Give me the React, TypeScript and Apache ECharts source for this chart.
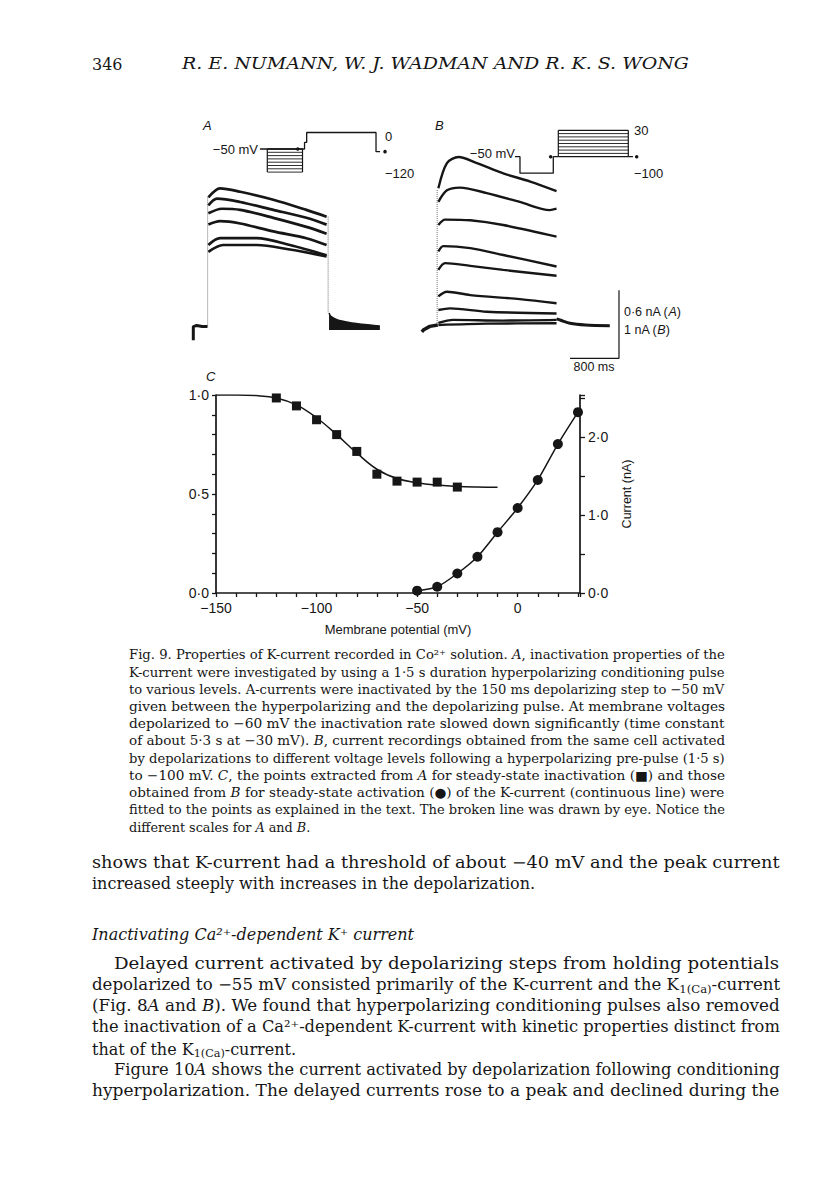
import React, { useEffect, useRef } from "react";
import * as echarts from "echarts";

// ---------- Panel A: current traces (time ms, current nA) ----------
const traceA1 = [[300, 1.17], [490, 1.25], [820, 1.22], [1360, 1.15], [1900, 1.06], [2230, 1.0]];
const traceA2 = [[300, 1.1], [440, 1.16], [820, 1.13], [1360, 1.06], [1900, 0.99], [2230, 0.93]];
const traceA3 = [[300, 1.03], [520, 1.07], [820, 1.06], [1360, 0.99], [1900, 0.91], [2230, 0.85]];
const traceA4 = [[300, 0.93], [490, 0.96], [820, 0.94], [1360, 0.87], [1900, 0.81], [2230, 0.75]];
const traceA5 = [[300, 0.75], [490, 0.81], [1090, 0.81], [1630, 0.75], [2230, 0.66]];
const traceA6 = [[300, 0.69], [540, 0.75], [1090, 0.75], [1630, 0.71], [2230, 0.65]];
const baselineA = [[54, -0.09], [54, 0.03], [110, 0.04], [200, 0.03], [285, 0.03]];
const riseA = [[288, 0.03], [288, 1.17]];
const fallA = [[2255, 1.0], [2255, 0.15]];
const tailA = [[2270, 0.15], [2300, 0.12], [2400, 0.09], [2600, 0.065], [2800, 0.05], [3000, 0.04], [3100, 0.035]];

// Panel A voltage protocol (time ms, schematic mV)
const protoALine = [[1143, -50], [1837, -50], [1870, -50], [1870, -30], [1905, -30], [1905, 0], [3037, 0], [3037, -58], [3103, -58]];
const protoALevels = [-50, -60, -70, -80, -90, -100, -110, -120];
const protoAStepStart = 1262;
const protoAStepEnd = 1837;
const protoADots = [[1759, -50], [3184, -58]];

// ---------- Panel B ----------
const traceB1 = [[300, 2.01], [440, 2.38], [630, 2.47], [930, 2.38], [1360, 2.23], [1800, 2.11], [2230, 1.97]];
const traceB2 = [[300, 1.81], [440, 1.98], [650, 2.02], [1090, 1.94], [1630, 1.81], [2120, 1.69], [2230, 1.71]];
const traceB3 = [[300, 1.47], [410, 1.55], [820, 1.54], [1360, 1.47], [2230, 1.3]];
const traceB4 = [[300, 1.08], [380, 1.16], [820, 1.13], [1360, 1.03], [2230, 0.86]];
const traceB5 = [[300, 0.81], [410, 0.91], [820, 0.87], [1360, 0.81], [2230, 0.725]];
const traceB6 = [[300, 0.42], [440, 0.49], [820, 0.44], [1630, 0.38], [2230, 0.32]];
const traceB7 = [[300, 0.22], [490, 0.245], [1090, 0.195], [2230, 0.17]];
const traceB8 = [[300, 0.03], [540, 0.075], [1360, 0.065], [2230, 0.075]];
const traceB9 = [[300, 0.0], [1090, 0.02], [2230, 0.025]];
const baselineB = [[30, -0.1], [60, -0.07], [160, -0.02], [290, 0.0]];
const riseB = [[280, 0.0], [280, 2.0]];
const tailB = [[2230, 0.09], [2300, 0.07], [2450, 0.025], [2700, 0.0], [3100, -0.01]];
const scaleBarB = [[2450, -0.49], [3250, -0.49], [3250, 0.51]];

// Panel B voltage protocol
const protoBLine = [[1551, -50], [1633, -50], [1633, -100], [2177, -100], [2177, -50], [2259, -50]];
const protoBLevels = [-50, -40, -30, -20, -10, 0, 10, 20, 30];
const protoBStepStart = 2259;
const protoBStepEnd = 3402;
const protoBOut = [[3402, -50], [3478, -50]];
const protoBDots = [[2134, -50], [3539, -50]];

// ---------- Panel C ----------
const inactV = [-120, -110, -100, -90, -80, -70, -60, -50, -40, -30];
const inactVal = [0.985, 0.945, 0.875, 0.8, 0.715, 0.6, 0.565, 0.56, 0.56, 0.535];
const fitV = [-150, -140, -130, -120, -110, -100, -90, -80, -70, -60, -50, -40, -30, -20, -10];
const fitVal = [1.0, 1.0, 0.997, 0.985, 0.95, 0.885, 0.8, 0.707, 0.625, 0.578, 0.557, 0.545, 0.538, 0.535, 0.534];
const actV = [-50, -40, -30, -20, -10, 0, 10, 20, 30];
const actVal = [0.03, 0.08, 0.25, 0.465, 0.78, 1.09, 1.45, 1.91, 2.32];

// ---------- Page text ----------
const headerNumber = "346";
const headerTitle = "R. E. NUMANN, W. J. WADMAN AND R. K. S. WONG";
const captionLines = [
  "Fig. 9. Properties of K-current recorded in Co²⁺ solution. {i|A}, inactivation properties of the",
  "K-current were investigated by using a 1·5 s duration hyperpolarizing conditioning pulse",
  "to various levels. A-currents were inactivated by the 150 ms depolarizing step to −50 mV",
  "given between the hyperpolarizing and the depolarizing pulse. At membrane voltages",
  "depolarized to −60 mV the inactivation rate slowed down significantly (time constant",
  "of about 5·3 s at −30 mV). {i|B}, current recordings obtained from the same cell activated",
  "by depolarizations to different voltage levels following a hyperpolarizing pre-pulse (1·5 s)",
  "to −100 mV. {i|C}, the points extracted from {i|A} for steady-state inactivation (■) and those",
  "obtained from {i|B} for steady-state activation (●) of the K-current (continuous line) were",
  "fitted to the points as explained in the text. The broken line was drawn by eye. Notice the",
  "different scales for {i|A} and {i|B}.",
];
const bodyLines = [
  { t: "shows that K-current had a threshold of about −40 mV and the peak current", y: 862, indent: 0, just: true },
  { t: "increased steeply with increases in the depolarization.", y: 883, indent: 0, just: false },
  { t: "{i|Inactivating Ca²⁺-dependent K⁺ current}", y: 934, indent: 0, just: false },
  { t: "Delayed current activated by depolarizing steps from holding potentials", y: 963, indent: 22, just: true },
  { t: "depolarized to −55 mV consisted primarily of the K-current and the K{sub|1(Ca)}-current", y: 985, indent: 0, just: true },
  { t: "(Fig. 8{i|A} and {i|B}). We found that hyperpolarizing conditioning pulses also removed", y: 1006, indent: 0, just: true },
  { t: "the inactivation of a Ca²⁺-dependent K-current with kinetic properties distinct from", y: 1027, indent: 0, just: true },
  { t: "that of the K{sub|1(Ca)}-current.", y: 1049, indent: 0, just: false },
  { t: "Figure 10{i|A} shows the current activated by depolarization following conditioning", y: 1070, indent: 22, just: true },
  { t: "hyperpolarization. The delayed currents rose to a peak and declined during the", y: 1091, indent: 0, just: true },
];

const SANS = '"Liberation Sans", Arial, Helvetica, sans-serif';
const SERIF = "DejaVu Serif";
const INK = "#161616";

const dotFmt = (v: number, d = 1) => {
  const s = Math.abs(v).toFixed(d).replace(".", "·");
  return v < 0 ? "−" + s : s;
};
const intFmt = (v: number) => (v < 0 ? "−" + Math.abs(v) : String(v));

let measureCtx: CanvasRenderingContext2D | null = null;
function measureRich(text: string, size: number, family: string, baseStyle: string) {
  if (!measureCtx) measureCtx = document.createElement("canvas").getContext("2d");
  const ctx = measureCtx!;
  const re = /\{(\w+)\|([^}]*)\}/g;
  let last = 0;
  let w = 0;
  let m: RegExpExecArray | null;
  const seg = (s: string, style: string, sz: number) => {
    ctx.font = `${style} ${sz}px "${family}"`;
    w += ctx.measureText(s).width;
  };
  while ((m = re.exec(text))) {
    if (m.index > last) seg(text.slice(last, m.index), baseStyle, size);
    const tag = m[1];
    seg(m[2], tag === "i" ? "italic" : baseStyle, tag === "sub" ? size * 0.7 : size);
    last = re.lastIndex;
  }
  if (last < text.length) seg(text.slice(last), baseStyle, size);
  return w;
}

function textLine(text: string, x: number, y: number, size: number, opts: any = {}) {
  const family = opts.family || SERIF;
  const baseStyle = opts.italic ? "italic" : "normal";
  let scaleX = 1;
  if (opts.right) {
    const w = measureRich(text, size, family, baseStyle);
    if (w > 0) scaleX = (opts.right - x) / w;
  }
  return {
    type: "text",
    x,
    y,
    scaleX,
    silent: true,
    style: {
      text,
      fontSize: size,
      fontFamily: family,
      fontStyle: baseStyle,
      fill: INK,
      align: opts.align || "left",
      verticalAlign: "middle",
      rich: {
        i: { fontStyle: "italic", fontSize: size, fontFamily: family, fill: INK },
        sub: { fontSize: size * 0.7, fontFamily: family, fill: INK, padding: [size * 0.55, 0, 0, 0] },
      },
    },
  };
}

function lineSeries(data: any[], xi: number, yi: number, width = 2, extra: any = {}) {
  return {
    type: "line",
    xAxisIndex: xi,
    yAxisIndex: yi,
    data,
    symbol: "none",
    silent: true,
    smooth: extra.smooth ?? 0,
    lineStyle: { color: INK, width, type: extra.dash || "solid", opacity: extra.opacity ?? 1 },
    areaStyle: extra.area,
    z: 3,
  };
}

function hiddenAxis(grid: number, min: number, max: number) {
  return { type: "value", gridIndex: grid, min, max, show: false, splitLine: { show: false } };
}

function buildOption() {
  const series: any[] = [];
  // Panel A traces
  [traceA1, traceA2, traceA3, traceA4, traceA5, traceA6].forEach((t) => series.push(lineSeries(t, 0, 0, 2.7, { smooth: 0.3 })));
  series.push(lineSeries(baselineA, 0, 0, 3));
  series.push(lineSeries(riseA, 0, 0, 1, { dash: "dotted", opacity: 0.6 }));
  series.push(lineSeries(fallA, 0, 0, 1, { dash: "dotted", opacity: 0.6 }));
  series.push(lineSeries(tailA, 0, 0, 1.5, { smooth: 0.3, area: { color: INK, opacity: 1, origin: 0 } }));
  // Panel A protocol
  series.push(lineSeries(protoALine, 1, 1, 1.3));
  protoALevels.forEach((lv) => series.push(lineSeries([[protoAStepStart, lv], [protoAStepEnd, lv]], 1, 1, lv === -50 ? 1.3 : 0.9)));
  series.push(lineSeries([[protoAStepStart, -50], [protoAStepStart, -120]], 1, 1, 1.2));
  series.push(lineSeries([[protoAStepEnd, -50], [protoAStepEnd, -120]], 1, 1, 1.2));
  series.push({ type: "scatter", xAxisIndex: 1, yAxisIndex: 1, data: protoADots, symbol: "circle", symbolSize: 3.5, itemStyle: { color: INK, opacity: 1 }, silent: true });

  // Panel B traces
  [traceB1, traceB2, traceB3, traceB4, traceB5, traceB6, traceB7, traceB8, traceB9].forEach((t) =>
    series.push(lineSeries(t, 2, 2, 2.4, { smooth: 0.3 }))
  );
  series.push(lineSeries(baselineB, 2, 2, 3.5));
  series.push(lineSeries(riseB, 2, 2, 1, { dash: "dotted", opacity: 0.6 }));
  series.push(lineSeries(tailB, 2, 2, 3, { smooth: 0.3 }));
  series.push(lineSeries(scaleBarB, 2, 2, 1.2));
  // Panel B protocol
  series.push(lineSeries(protoBLine, 3, 3, 1.3));
  protoBLevels.forEach((lv) => series.push(lineSeries([[protoBStepStart, lv], [protoBStepEnd, lv]], 3, 3, lv === 30 || lv === -50 ? 1.3 : 0.9)));
  series.push(lineSeries([[protoBStepStart, -50], [protoBStepStart, 30]], 3, 3, 1.2));
  series.push(lineSeries([[protoBStepEnd, -50], [protoBStepEnd, 30]], 3, 3, 1.2));
  series.push(lineSeries(protoBOut, 3, 3, 1.3));
  series.push({ type: "scatter", xAxisIndex: 3, yAxisIndex: 3, data: protoBDots, symbol: "circle", symbolSize: 3.5, itemStyle: { color: INK, opacity: 1 }, silent: true });

  // Panel C
  series.push({
    type: "line", xAxisIndex: 4, yAxisIndex: 4, data: fitV.map((v, i) => [v, fitVal[i]]),
    symbol: "none", smooth: 0.4, lineStyle: { color: INK, width: 1.5 }, silent: true, z: 2,
  });
  series.push({
    type: "scatter", xAxisIndex: 4, yAxisIndex: 4, data: inactV.map((v, i) => [v, inactVal[i]]),
    symbol: "rect", symbolSize: 9, itemStyle: { color: INK, opacity: 1 }, silent: true, z: 4,
  });
  series.push({
    type: "line", xAxisIndex: 4, yAxisIndex: 5, data: actV.map((v, i) => [v, actVal[i]]),
    symbol: "circle", symbolSize: 10, smooth: 0.25, showSymbol: true,
    itemStyle: { color: INK, opacity: 1 }, lineStyle: { color: INK, width: 1.5 }, silent: true, z: 4,
  });

  const axisLabelC = { color: INK, fontFamily: SANS, fontSize: 14 };
  const xAxis: any[] = [
    hiddenAxis(0, 0, 3200),
    hiddenAxis(1, 0, 3200),
    hiddenAxis(2, 0, 3750),
    hiddenAxis(3, 0, 3750),
    {
      type: "value", gridIndex: 4, min: -150, max: 31, interval: 10,
      axisLine: { show: true, onZero: false, lineStyle: { color: INK, width: 1.7 } },
      axisTick: { show: true, length: 4, lineStyle: { color: INK, width: 1.3 } },
      axisLabel: { ...axisLabelC, margin: 8, formatter: (v: number) => (v % 50 === 0 ? intFmt(v) : "") },
      splitLine: { show: false },
      name: "Membrane potential (mV)", nameLocation: "middle", nameGap: 30,
      nameTextStyle: { color: INK, fontFamily: SANS, fontSize: 13 },
    },
  ];
  const yAxis: any[] = [
    hiddenAxis(0, -0.1, 1.3),
    hiddenAxis(1, -130, 10),
    hiddenAxis(2, -0.55, 2.6),
    hiddenAxis(3, -110, 40),
    {
      type: "value", gridIndex: 4, min: 0, max: 1, interval: 0.1, position: "left",
      axisLine: { show: true, onZero: false, lineStyle: { color: INK, width: 1.7 } },
      axisTick: { show: true, length: 4, lineStyle: { color: INK, width: 1.3 } },
      axisLabel: {
        ...axisLabelC, margin: 7,
        formatter: (v: number) => (Math.abs(v * 2 - Math.round(v * 2)) < 1e-6 ? dotFmt(v) : ""),
      },
      splitLine: { show: false },
    },
    {
      type: "value", gridIndex: 4, min: 0, max: 2.54, interval: 0.5, position: "right",
      axisLine: { show: true, onZero: false, lineStyle: { color: INK, width: 1.7 } },
      axisTick: { show: true, length: 5, lineStyle: { color: INK, width: 1.3 } },
      axisLabel: {
        ...axisLabelC, margin: 8,
        formatter: (v: number) => (Math.abs(v - Math.round(v)) < 1e-6 ? dotFmt(v) : ""),
      },
      splitLine: { show: false },
      name: "Current (nA)", nameLocation: "middle", nameGap: 40, nameRotate: 90,
      nameTextStyle: { color: INK, fontFamily: SANS, fontSize: 12.5 },
    },
  ];

  const g = (left: number, top: number, width: number, height: number) => ({
    left, top, width, height, containLabel: false, outerBoundsMode: "none",
  });

  const graphic: any[] = [];
  const sansText = (t: string, x: number, y: number, size: number, opts: any = {}) =>
    textLine(t, x, y, size, { family: "Liberation Sans", ...opts });
  // panel labels and annotations
  graphic.push(sansText("A", 203, 125, 13, { italic: true }));
  graphic.push(sansText("B", 435, 125, 13, { italic: true }));
  graphic.push(sansText("C", 206, 376, 13, { italic: true }));
  graphic.push(sansText("−50 mV", 258, 149, 13, { align: "right" }));
  graphic.push(sansText("0", 385, 136, 13));
  graphic.push(sansText("−120", 385, 173, 13));
  graphic.push(sansText("−50 mV", 515, 153, 13, { align: "right" }));
  graphic.push(sansText("30", 634, 130, 13));
  graphic.push(sansText("−100", 634, 173, 13));
  graphic.push(sansText("0·6 nA ({i|A})", 624, 312, 12.5));
  graphic.push(sansText("1 nA ({i|B})", 624, 330, 12.5));
  graphic.push(sansText("800 ms", 594, 367, 12.5, { align: "center" }));

  // header
  graphic.push(textLine(headerNumber, 92, 64, 16));
  graphic.push(textLine(headerTitle, 182, 64, 16, { italic: true, right: 689 }));
  // caption
  captionLines.forEach((t, i) => {
    const last = i === captionLines.length - 1;
    graphic.push(textLine(t, 129, 655 + i * 17.2, 12.8, last ? {} : { right: 725 }));
  });
  // body
  bodyLines.forEach((l) => {
    graphic.push(textLine(l.t, 92 + l.indent, l.y, 16, l.just ? { right: 780 } : {}));
  });

  return {
    animation: false,
    backgroundColor: "#ffffff",
    textStyle: { fontFamily: SANS },
    grid: [
      g(190, 182.7, 196, 158.6),
      g(190, 129.2, 196, 46.2),
      g(420, 148.2, 229.6, 214.2),
      g(420, 127, 229.6, 49.5),
      g(216, 395, 364, 198),
    ],
    xAxis,
    yAxis,
    series,
    graphic,
  };
}

export default function App() {
  const ref = useRef<HTMLDivElement>(null);
  useEffect(() => {
    if (!ref.current) return;
    const chart = echarts.init(ref.current, null, { renderer: "svg" });
    chart.setOption(buildOption() as any);
    return () => chart.dispose();
  }, []);
  return (
    <div
      ref={ref}
      style={{ position: "absolute", left: 0, top: 0, width: 816, height: 1198, background: "#fff" }}
    />
  );
}
